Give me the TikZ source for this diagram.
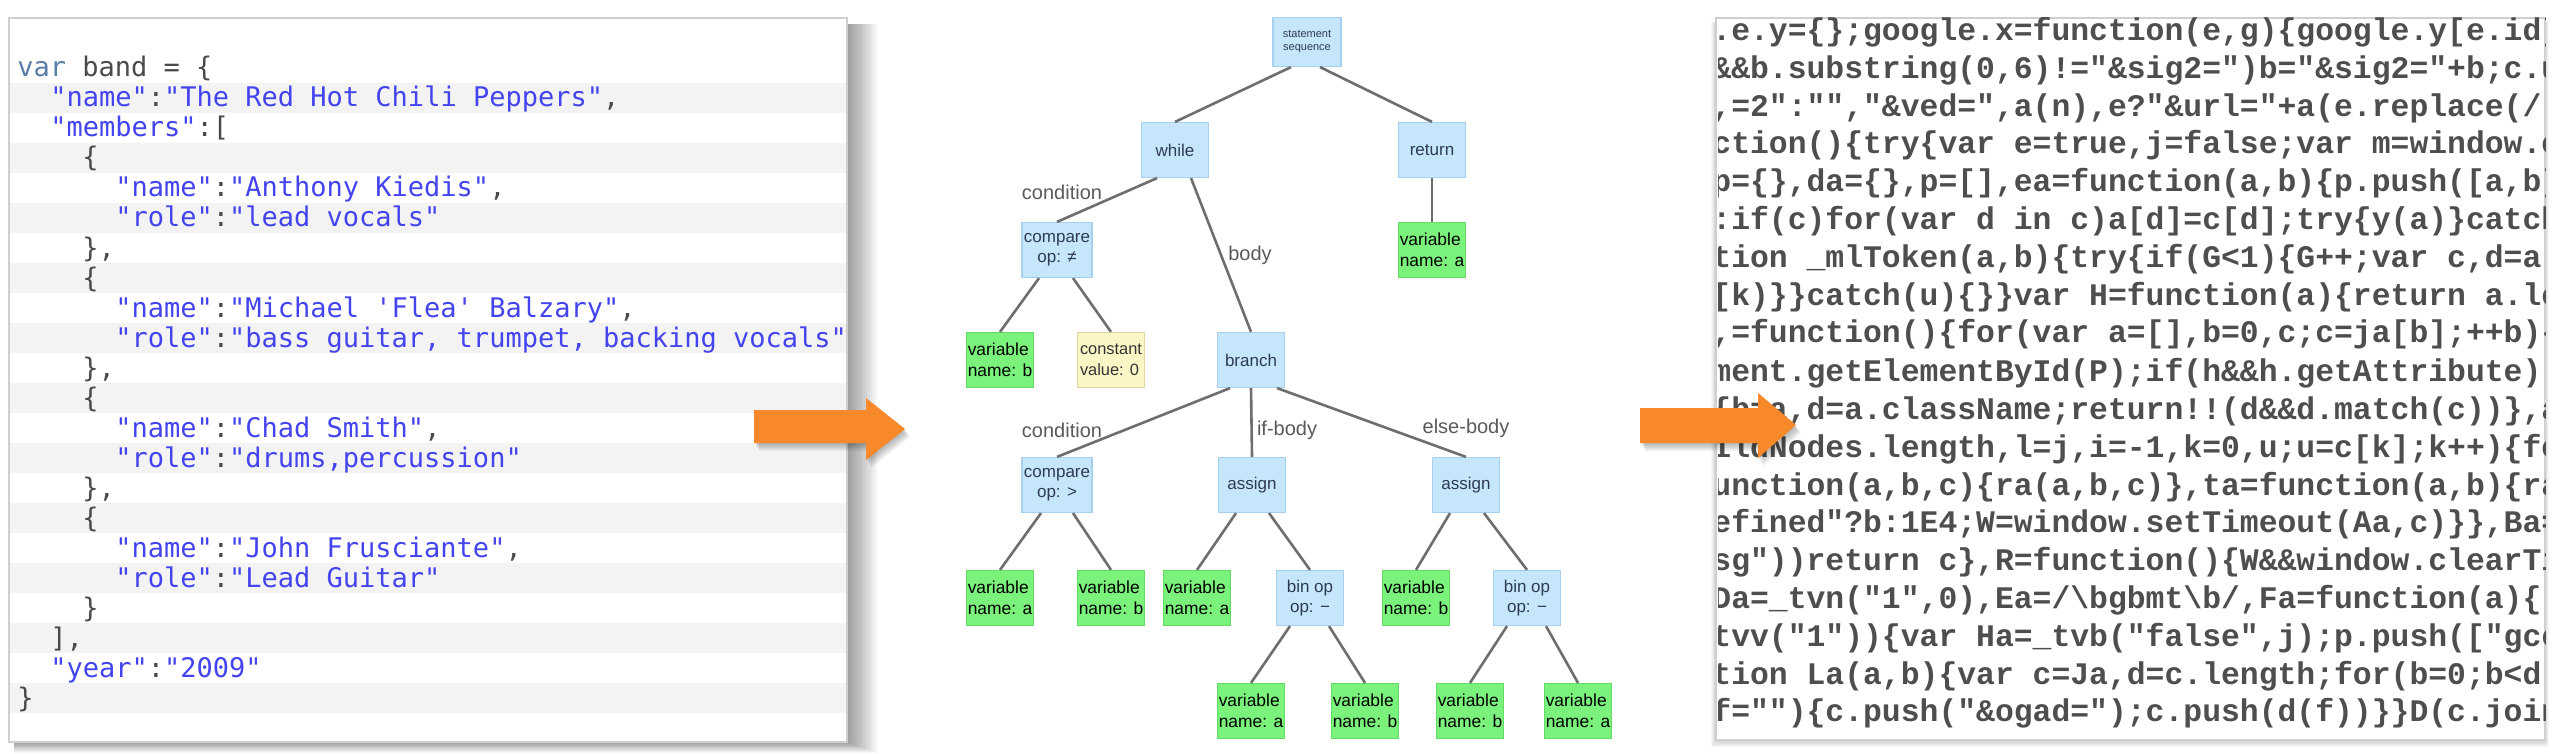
\documentclass[tikz,border=0pt]{standalone}
\usepackage{fontspec}
\newfontfamily\codefont{DejaVu Sans Mono}
\newfontfamily\courfont{Liberation Mono}
\newfontfamily\treefont{Liberation Sans}
\definecolor{kwcol}{HTML}{5A7FA8}
\definecolor{strcol}{HTML}{4444EE}
\definecolor{plaincol}{HTML}{4A4A4A}
\definecolor{stripe}{HTML}{F3F3F3}
\definecolor{panelb}{HTML}{CFCFCF}
\definecolor{rcol}{HTML}{4E4E4E}
\definecolor{arrorange}{HTML}{F7892B}
\definecolor{nblue}{HTML}{C6E7FB}
\definecolor{nblueb}{HTML}{A6D0EE}
\definecolor{ngreen}{HTML}{7BF27B}
\definecolor{ngreenb}{HTML}{62DC62}
\definecolor{nyellow}{HTML}{FBF6C6}
\definecolor{nyellowb}{HTML}{E2D9A0}
\definecolor{edgegray}{HTML}{6E6E6E}
\definecolor{labgray}{HTML}{5A5A5A}
\definecolor{ntext}{HTML}{2E3A50}
\newcommand\kw[1]{\textcolor{kwcol}{#1}}
\newcommand\str[1]{\textcolor{strcol}{#1}}
\tikzset{
  ctext/.style={anchor=base west, inner sep=0pt, font=\codefont\fontsize{13.5}{15}\selectfont, text=plaincol},
  rtext/.style={anchor=base west, inner sep=0pt, font=\courfont\bfseries\fontsize{15.7}{18}\selectfont, text=rcol},
  tn/.style={draw, line width=0.6pt, minimum width=33.5pt, minimum height=27.5pt, inner sep=1pt,
    font=\treefont\fontsize{8.5}{10}\selectfont, text=ntext, align=center},
  bluebox/.style={tn, fill=nblue, draw=nblueb},
  greenbox/.style={tn, fill=ngreen, draw=ngreenb, text=black, align=left, inner xsep=0.8pt,
    font=\treefont\fontsize{8.7}{10.5}\selectfont},
  yellowbox/.style={tn, fill=nyellow, draw=nyellowb, text=black!80, align=left, inner xsep=0.8pt,
    font=\treefont\fontsize{8.2}{10.5}\selectfont},
  conn/.style={draw=edgegray, line width=1.3pt},
  lab/.style={font=\treefont\fontsize{10}{12}\selectfont, text=labgray, inner sep=0pt}
}
\begin{document}
\begin{tikzpicture}[x=0.5pt,y=-0.5pt]
\useasboundingbox (0,0) rectangle (2558,754);
\fill[white] (0,0) rectangle (2558,754);

% ---------- left panel ----------
\foreach \k in {1,...,12}
  \fill[black,opacity=0.035] (14,24) rectangle ({847+2.5*\k},{742+0.9*\k});
\fill[white] (9,18) rectangle (847,742);
\foreach \i in {2,4,...,22}
  \fill[stripe] (10,{68+30*(\i-1)-15}) rectangle (846,{68+30*(\i-1)+15});
\draw[panelb,line width=0.8pt] (9,18) rectangle (847,742);

\node[ctext] (l1)  at (17,77)  {\kw{var} band = \{};
\node[ctext] (l2)  at (50,107) {\str{"name"}:\str{"The Red Hot Chili Peppers"},};
\node[ctext] (l3)  at (50,137) {\str{"members"}:[};
\node[ctext] (l4)  at (82,167) {\{};
\node[ctext] (l5)  at (115,197) {\str{"name"}:\str{"Anthony Kiedis"},};
\node[ctext] (l6)  at (115,227) {\str{"role"}:\str{"lead vocals"}};
\node[ctext] (l7)  at (82,257) {\},};
\node[ctext] (l8)  at (82,287) {\{};
\node[ctext] (l9)  at (115,317) {\str{"name"}:\str{"Michael 'Flea' Balzary"},};
\node[ctext] (l10) at (115,347) {\str{"role"}:\str{"bass guitar, trumpet, backing vocals"}};
\node[ctext] (l11) at (82,377) {\},};
\node[ctext] (l12) at (82,407) {\{};
\node[ctext] (l13) at (115,437) {\str{"name"}:\str{"Chad Smith"},};
\node[ctext] (l14) at (115,467) {\str{"role"}:\str{"drums,percussion"}};
\node[ctext] (l15) at (82,497) {\},};
\node[ctext] (l16) at (82,527) {\{};
\node[ctext] (l17) at (115,557) {\str{"name"}:\str{"John Frusciante"},};
\node[ctext] (l18) at (115,587) {\str{"role"}:\str{"Lead Guitar"}};
\node[ctext] (l19) at (82,617) {\}};
\node[ctext] (l20) at (50,647) {],};
\node[ctext] (l21) at (50,677) {\str{"year"}:\str{"2009"}};
\node[ctext] (l22) at (17,707) {\}};

% ---------- right panel ----------
\foreach \k in {1,...,6}
  \fill[black,opacity=0.03] ({1716-0.8*\k},22) rectangle ({2545+0.6*\k},{740+1.2*\k});
\fill[white] (1716,18) rectangle (2545,740);
\draw[panelb,line width=0.6pt] (1716,18) rectangle (2545,740);
\begin{scope}
\clip (1718,18) rectangle (2545,740);
\node[rtext] (r1)  at (1712,41)  {.e.y=\{\};google.x=function(e,g)\{google.y[e.id]};
\node[rtext] (r2)  at (1712,79)  {\&\&b.substring(0,6)!="\&sig2=")b="\&sig2="+b;c.u};
\node[rtext] (r3)  at (1712,117) {,=2":"","\&ved=",a(n),e?"\&url="+a(e.replace(/};
\node[rtext] (r4)  at (1712,154) {ction()\{try\{var e=true,j=false;var m=window.o};
\node[rtext] (r5)  at (1712,192) {p=\{\},da=\{\},p=[],ea=function(a,b)\{p.push([a,b]};
\node[rtext] (r6)  at (1712,230) {:if(c)for(var d in c)a[d]=c[d];try\{y(a)\}catch};
\node[rtext] (r7)  at (1712,268) {tion \_mlToken(a,b)\{try\{if(G<1)\{G++;var c,d=a};
\node[rtext] (r8)  at (1712,306) {[k)\}\}catch(u)\{\}\}var H=function(a)\{return a.le};
\node[rtext] (r9)  at (1712,343) {,=function()\{for(var a=[],b=0,c;c=ja[b];++b)\{};
\node[rtext] (r10) at (1712,381) {ment.getElementById(P);if(h\&\&h.getAttribute)};
\node[rtext] (r11) at (1712,419) {\{b=a,d=a.className;return!!(d\&\&d.match(c))\},a};
\node[rtext] (r12) at (1712,457) {ildNodes.length,l=j,i=-1,k=0,u;u=c[k];k++)\{fo};
\node[rtext] (r13) at (1712,495) {unction(a,b,c)\{ra(a,b,c)\},ta=function(a,b)\{ra};
\node[rtext] (r14) at (1712,532) {efined"?b:1E4;W=window.setTimeout(Aa,c)\}\},Ba=};
\node[rtext] (r15) at (1712,570) {sg"))return c\},R=function()\{W\&\&window.clearTi};
\node[rtext] (r16) at (1712,608) {Da=\_tvn("1",0),Ea=/\textbackslash{}bgbmt\textbackslash{}b/,Fa=function(a)\{};
\node[rtext] (r17) at (1712,646) {tvv("1"))\{var Ha=\_tvb("false",j);p.push(["gcc};
\node[rtext] (r18) at (1712,684) {tion La(a,b)\{var c=Ja,d=c.length;for(b=0;b<d||};
\node[rtext] (r19) at (1712,721) {f="")\{c.push("\&ogad=");c.push(d(f))\}\}D(c.join};
\end{scope}

% ---------- arrows ----------
\foreach \k in {1,...,5}
  \fill[black,opacity=0.06] ({754+\k},{410+1.6*\k}) -- ({866+\k},{410+1.6*\k}) -- ({866+\k},{398+1.6*\k}) -- ({905+\k},{429+1.6*\k}) -- ({866+\k},{460+1.6*\k}) -- ({866+\k},{443+1.6*\k}) -- ({754+\k},{443+1.6*\k}) -- cycle;
\fill[arrorange] (754,410) -- (866,410) -- (866,398) -- (905,429) -- (866,460) -- (866,443) -- (754,443) -- cycle;
\foreach \k in {1,...,5}
  \fill[black,opacity=0.06] ({1640+\k},{408+1.6*\k}) -- ({1758+\k},{408+1.6*\k}) -- ({1758+\k},{393+1.6*\k}) -- ({1796+\k},{425+1.6*\k}) -- ({1758+\k},{458+1.6*\k}) -- ({1758+\k},{443+1.6*\k}) -- ({1640+\k},{443+1.6*\k}) -- cycle;
\fill[arrorange] (1640,408) -- (1758,408) -- (1758,393) -- (1796,425) -- (1758,458) -- (1758,443) -- (1640,443) -- cycle;

% ---------- tree ----------
\node[bluebox, minimum width=34pt, minimum height=24.5pt, font=\treefont\fontsize{5.5}{6.5}\selectfont] (root) at (1307,42) {statement\\sequence};
\node[bluebox] (while)  at (1175,150) {while};
\node[bluebox] (ret)    at (1432,150) {return};
\node[bluebox] (cmpne)  at (1057,250) {compare\\op: ≠};
\node[greenbox] (retvar) at (1432,250) {variable\\name: a};
\node[greenbox] (vb1)   at (1000,360) {variable\\name: b};
\node[yellowbox] (c0)   at (1111,360) {constant\\value: 0};
\node[bluebox] (branch) at (1251,360) {branch};
\node[bluebox] (cmpgt)  at (1057,485) {compare\\op: >};
\node[bluebox] (as1)    at (1252,485) {assign};
\node[bluebox] (as2)    at (1466,485) {assign};
\node[greenbox] (va1)   at (1000,598) {variable\\name: a};
\node[greenbox] (vb2)   at (1111,598) {variable\\name: b};
\node[greenbox] (va2)   at (1197,598) {variable\\name: a};
\node[bluebox] (bin1)   at (1310,598) {bin op\\op: −};
\node[greenbox] (vb3)   at (1416,598) {variable\\name: b};
\node[bluebox] (bin2)   at (1527,598) {bin op\\op: −};
\node[greenbox] (va3)   at (1251,711) {variable\\name: a};
\node[greenbox] (vb4)   at (1365,711) {variable\\name: b};
\node[greenbox] (vb5)   at (1470,711) {variable\\name: b};
\node[greenbox] (va4)   at (1578,711) {variable\\name: a};

\draw[conn] ([xshift=-8pt]root.south) -- (while.north);
\draw[conn] ([xshift=6.5pt]root.south) -- (ret.north);
\draw[conn] ([xshift=-9pt]while.south) -- (cmpne.north);
\draw[conn] ([xshift=8pt]while.south) -- (branch.north);
\draw[conn] (ret.south) -- (retvar.north);
\draw[conn] ([xshift=-9pt]cmpne.south) -- (vb1.north);
\draw[conn] ([xshift=8pt]cmpne.south) -- (c0.north);
\draw[conn] ([xshift=-10.5pt]branch.south) -- (cmpgt.north);
\draw[conn] (branch.south) -- (as1.north);
\draw[conn] ([xshift=13pt]branch.south) -- (as2.north);
\draw[conn] ([xshift=-8pt]cmpgt.south) -- (va1.north);
\draw[conn] ([xshift=8pt]cmpgt.south) -- (vb2.north);
\draw[conn] ([xshift=-8pt]as1.south) -- (va2.north);
\draw[conn] ([xshift=8.5pt]as1.south) -- (bin1.north);
\draw[conn] ([xshift=-8pt]as2.south) -- (vb3.north);
\draw[conn] ([xshift=9pt]as2.south) -- (bin2.north);
\draw[conn] ([xshift=-10pt]bin1.south) -- (va3.north);
\draw[conn] ([xshift=9.5pt]bin1.south) -- (vb4.north);
\draw[conn] ([xshift=-10pt]bin2.south) -- (vb5.north);
\draw[conn] ([xshift=9.5pt]bin2.south) -- (va4.north);

\node[lab] (lcond1) at (1062,192) {condition};
\node[lab] (lbody)  at (1250,255) {body};
\node[lab] (lcond2) at (1062,430) {condition};
\node[lab] (lif)    at (1287,430) {if-body};
\node[lab] (lelse)  at (1466,428) {else-body};
\end{tikzpicture}
\end{document}
